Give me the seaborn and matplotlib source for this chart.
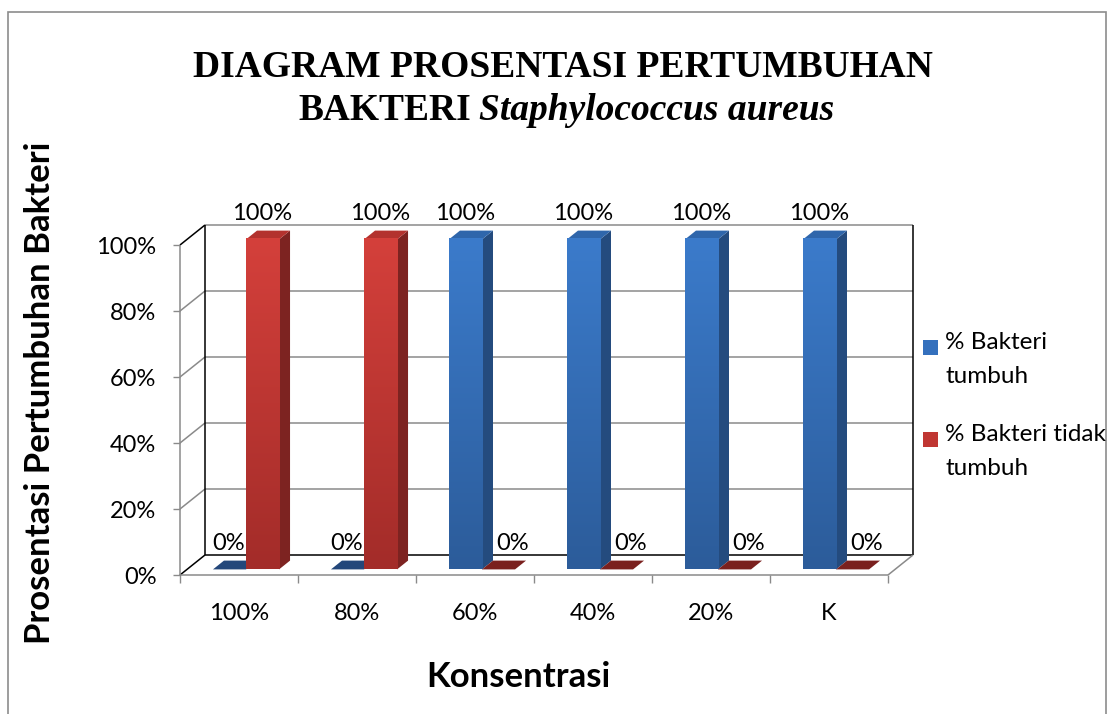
import numpy as np
import pandas as pd
import matplotlib
matplotlib.use("Agg")
import matplotlib.pyplot as plt
import seaborn as sns
from matplotlib.transforms import IdentityTransform
from matplotlib.patches import Polygon, Rectangle
from matplotlib.lines import Line2D
from matplotlib.colors import LinearSegmentedColormap, to_hex

# ---------------- data ----------------
konsentrasi = ["100%", "80%", "60%", "40%", "20%", "K"]
bakteri_tumbuh = [0, 0, 1, 1, 1, 1]
bakteri_tidak_tumbuh = [1, 1, 0, 0, 0, 0]
series_names = ["% Bakteri\ntumbuh", "% Bakteri tidak\ntumbuh"]
y_ticks = [0, 0.2, 0.4, 0.6, 0.8, 1.0]
y_tick_labels = ["0%", "20%", "40%", "60%", "80%", "100%"]

sns.set_theme(style="white")
plt.rcParams["font.family"] = ["Lato", "DejaVu Sans"]
plt.rcParams["text.color"] = "black"

W, H, DPI = 1113, 714, 100
fig = plt.figure(figsize=(W / DPI, H / DPI), dpi=DPI)
fig.patch.set_facecolor("white")

# front plane of the 3-D box, in pixels (top-left origin)
L, R, B, T = 180, 888, 575, 245
ax = fig.add_axes([L / W, 1 - B / H, (R - L) / W, (B - T) / H])

df = pd.DataFrame({
    "Konsentrasi": konsentrasi * 2,
    "Seri": [series_names[0]] * len(konsentrasi) + [series_names[1]] * len(konsentrasi),
    "Nilai": bakteri_tumbuh + bakteri_tidak_tumbuh,
})

blue, red = "#3a7bd0", "#cf3b37"
sns.barplot(data=df, x="Konsentrasi", y="Nilai", hue="Seri",
            palette=[blue, red], width=0.56, gap=0, ax=ax,
            legend=False, saturation=1)
ax.set_xlim(-0.5, len(konsentrasi) - 0.5)
ax.set_ylim(0, 1)
ax.set_xlabel("")
ax.set_ylabel("")
for s in ax.spines.values():
    s.set_visible(False)
ax.patch.set_alpha(0)

GRAY = "#8a8a8a"
TICK_FS = 17
ax.set_yticks(y_ticks, y_tick_labels)
ax.tick_params(axis="y", left=True, length=5, width=1, color=GRAY,
               direction="out", pad=12, labelsize=TICK_FS, labelcolor="black")
ax.set_xticks(range(len(konsentrasi)), konsentrasi)
ax.set_xticks(np.arange(-0.5, len(konsentrasi), 1), minor=True)
ax.tick_params(axis="x", which="major", bottom=True, length=0, pad=20,
               labelsize=TICK_FS, labelcolor="black")
ax.tick_params(axis="x", which="minor", bottom=True, length=6, width=1,
               color=GRAY, direction="out")

IDT = IdentityTransform()


def disp(x, y):
    return ax.transData.transform((x, y))


DX, DY = 25, 20          # full depth of the box (pixels)
FX, FY = 7, 5.6          # bar front face offset
BX, BY = 11, 8.8         # bar depth


def line(p0, p1, color, lw=1.1, z=1):
    ln = Line2D([p0[0], p1[0]], [p0[1], p1[1]], transform=IDT, color=color,
                lw=lw, zorder=z, clip_on=False, solid_capstyle="butt")
    ax.add_line(ln)


x_lo, x_hi = -0.5, len(konsentrasi) - 0.5
for yv in y_ticks:
    a = disp(x_lo, yv) + (DX, DY)
    b = disp(x_hi, yv) + (DX, DY)
    line(a, b, "black" if yv == 0 else GRAY)
    f = disp(x_lo, yv)
    line(f, f + (DX, DY), "black" if yv in (0, 1.0) else GRAY)
line(disp(x_lo, 0) + (DX, DY), disp(x_lo, 1) + (DX, DY), "black")
line(disp(x_hi, 0) + (DX, DY), disp(x_hi, 1) + (DX, DY), "black")
line(disp(x_lo, 0), disp(x_lo, 1), GRAY)
line(disp(x_lo, 0), disp(x_hi, 0), GRAY)
line(disp(x_hi, 0), disp(x_hi, 0) + (DX, DY), GRAY)

styles = {
    to_hex(blue): dict(top_c="#3b7bcb", bot_c="#2c5c9a", side="#244b7e",
                       topf="#2f66ab", flat="#23477a", zero_dx=-1),
    to_hex(red): dict(top_c="#d4403b", bot_c="#a32c29", side="#7d2321",
                      topf="#b3322e", flat="#7a201e", zero_dx=14),
}

grad = np.linspace(0, 1, 200).reshape(-1, 1)
bars = sorted(ax.patches, key=lambda p: p.get_x())
for i, p in enumerate(bars):
    x0, w, h = p.get_x(), p.get_width(), p.get_height()
    st = styles[to_hex(p.get_facecolor())]
    p.set_visible(False)
    xl, yb = disp(x0, 0) + (FX, FY)
    xr, yt = disp(x0 + w, h) + (FX, FY)
    z = 3 + i * 0.1
    if h > 0:
        side = Polygon([(xr, yb), (xr + BX, yb + BY), (xr + BX, yt + BY), (xr, yt)],
                       closed=True, transform=IDT, facecolor=st["side"],
                       edgecolor="none", zorder=z, clip_on=False)
        ax.add_patch(side)
        top = Polygon([(xl, yt), (xr, yt), (xr + BX, yt + BY), (xl + BX, yt + BY)],
                      closed=True, transform=IDT, facecolor=st["topf"],
                      edgecolor="none", zorder=z, clip_on=False)
        ax.add_patch(top)
        cm = LinearSegmentedColormap.from_list("g", [st["top_c"], st["bot_c"]])
        ax.imshow(grad, extent=(xl, xr, yb, yt), transform=IDT, cmap=cm,
                  aspect="auto", zorder=z + 0.05, clip_on=False,
                  interpolation="bilinear", origin="upper")
        dx = 0
    else:
        flat = Polygon([(xl, yb), (xr, yb), (xr + BX, yb + BY), (xl + BX, yb + BY)],
                       closed=True, transform=IDT, facecolor=st["flat"],
                       edgecolor="none", zorder=z, clip_on=False)
        ax.add_patch(flat)
        dx = st["zero_dx"]
    ax.annotate(f"{h:.0%}", xy=(x0 + w / 2, h), xytext=(FX + dx, FY + 26),
                textcoords="offset pixels", ha="center", va="center",
                fontsize=TICK_FS, color="black", annotation_clip=False, zorder=10)

ax.set_xlim(x_lo, x_hi)
ax.set_ylim(0, 1)

# legend (drawn manually so the swatch sits on the first text line)
legend_colors = ["#3470bd", "#c03632"]
legend_tops = [340, 432]
for col, top_px, name in zip(legend_colors, legend_tops, series_names):
    fig.patches.append(Rectangle((923 / W, 1 - (top_px + 15) / H), 15 / W, 15 / H,
                                 transform=fig.transFigure, facecolor=col,
                                 edgecolor="none"))
    fig.text(945 / W, 1 - (top_px - 8) / H, name, ha="left", va="top",
             fontsize=17.5, color="black", linespacing=1.75)

# titles
fig.text(563 / W, 1 - 77 / H, "DIAGRAM PROSENTASI PERTUMBUHAN", ha="center",
         va="baseline", fontsize=27, fontweight="bold", family="Liberation Serif",
         color="black")
fig.text(471 / W, 1 - 120 / H, "BAKTERI", ha="right", va="baseline",
         fontsize=27, fontweight="bold", family="Liberation Serif", color="black")
fig.text(479 / W, 1 - 120 / H, "Staphylococcus aureus", ha="left",
         va="baseline", fontsize=27, fontweight="bold", style="italic",
         family="Liberation Serif", color="black")

fig.text(40 / W, 1 - 393 / H, "Prosentasi Pertumbuhan Bakteri", rotation=90,
         ha="center", va="center", fontsize=25, fontweight="bold", color="black")
fig.text(518 / W, 1 - 677 / H, "Konsentrasi", ha="center", va="center",
         fontsize=25, fontweight="bold", color="black")

# outer chart border
fig.patches.append(Rectangle((8 / W, -0.05), (1106 - 8) / W, 1.05 - 12 / H,
                             transform=fig.transFigure, fill=False,
                             edgecolor="#8c8c8c", lw=1.2))

fig.savefig("out.png", dpi=DPI, facecolor="white")
